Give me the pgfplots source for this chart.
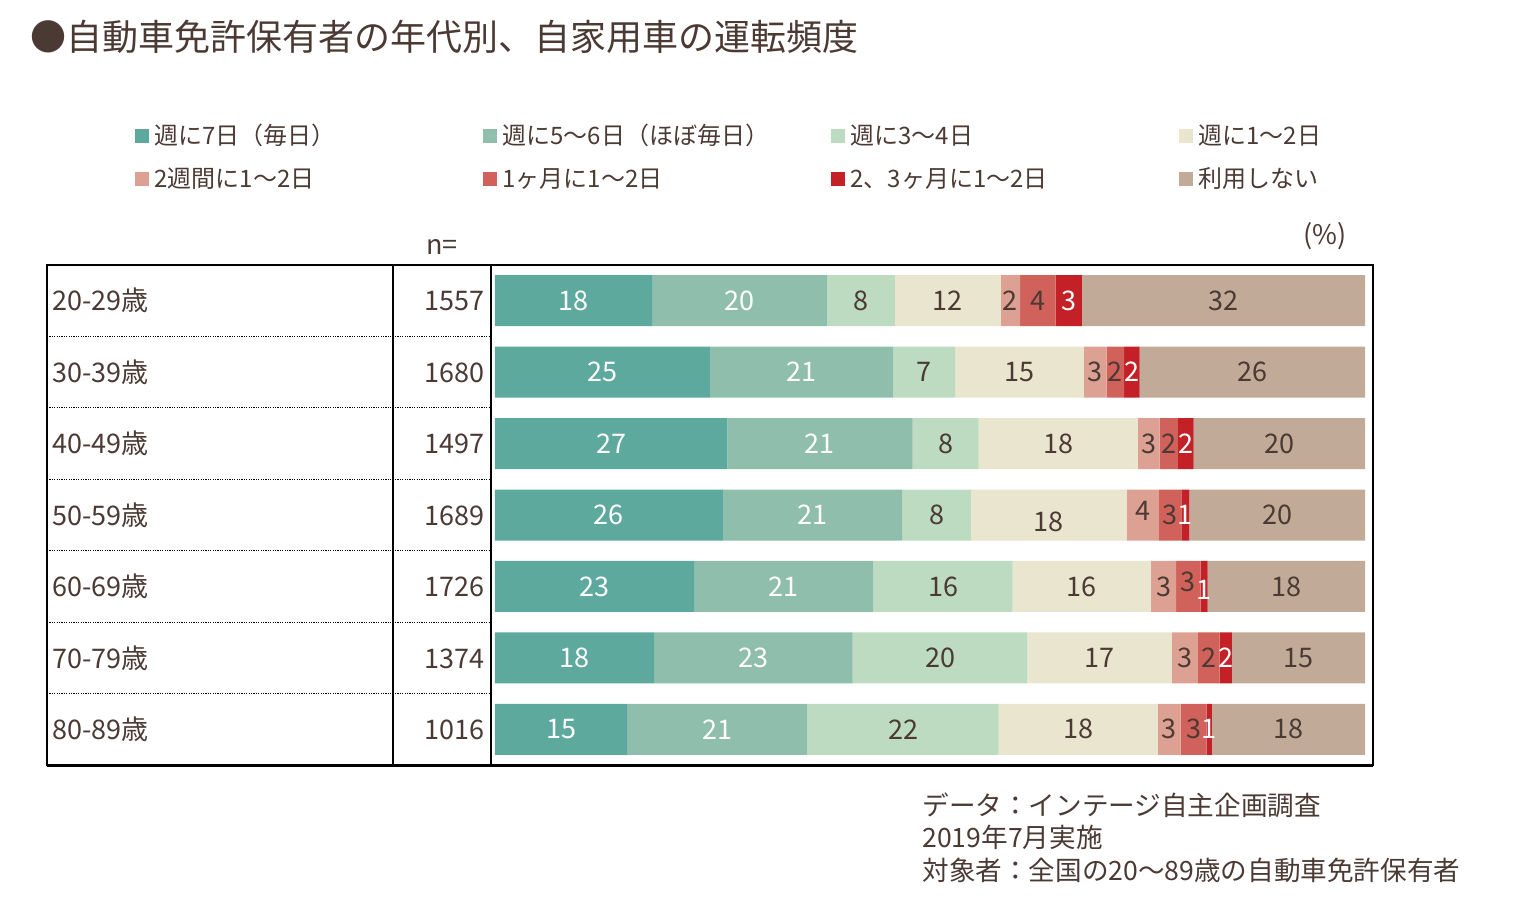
\documentclass[border=0pt]{standalone}
\usepackage{fontspec}
\setmainfont{Noto Sans CJK JP}
\usepackage{pgfplots}
\usepackage{pgfplotstable}
\pgfplotsset{compat=1.18}
\definecolor{txt}{HTML}{4B3A33}
\definecolor{c1}{HTML}{5EA99D}
\definecolor{c2}{HTML}{8FBEAD}
\definecolor{c3}{HTML}{BCDBC0}
\definecolor{c4}{HTML}{EAE5CF}
\definecolor{c5}{HTML}{DDA194}
\definecolor{c6}{HTML}{D1625B}
\definecolor{c7}{HTML}{C32127}
\definecolor{c8}{HTML}{C1AB98}
\newcommand\lbl{\fontsize{13.5}{16}\selectfont}
\newcommand\barfont{\fontsize{13.5}{16}\selectfont}
\newcommand\legfont{\fontsize{12}{14}\selectfont}
\newcommand\titlefont{\fontsize{18}{22}\selectfont}
\newcommand\footfont{\fontsize{13.3}{16.25}\selectfont}

\pgfplotstableread{
y s1 s2 s3 s4 s5 s6 s7 s8 l1 l2 l3 l4 l5 l6 l7 l8 z d4 d5 d6 d7
1 18.05 20.1 7.8 12.2 2.2 4.1 3.0 32.55 18 20 8 12 2 4 3 32 0 0 0 0 0
2 24.7 21.1 7.1 14.8 2.6 2.0 1.8 25.9 25 21 7 15 3 2 2 26 0 0 0 0 0
3 26.7 21.3 7.6 18.3 2.5 2.1 1.8 19.7 27 21 8 18 3 2 2 20 0 0 0 0 0
4 26.2 20.6 7.9 17.9 3.7 2.6 0.9 20.2 26 21 8 18 4 3 1 20 0 -3.5 2 0 0
5 22.9 20.6 16.0 15.9 2.9 2.8 0.8 18.1 23 21 16 16 3 3 1 18 0 0 0 2.5 -1.5
6 18.3 22.8 20.1 16.6 3.0 2.5 1.4 15.3 18 23 20 17 3 2 2 15 0 0 0 0 0
7 15.2 20.7 22.0 18.3 2.6 3.0 0.6 17.6 15 21 22 18 3 3 1 18 0 0 0 0 0
}\data

\newcommand\seg[4]{%
 \addplot[fill=#1, draw=none, point meta=explicit symbolic,
   visualization depends on={\thisrow{#4} \as \dy},
   nodes near coords,
   every node near coord/.append style={text=#3, anchor=center, font=\barfont, inner sep=0pt,
     yshift=\dy pt}]
   table[x=s#2, y=y, meta=l#2]{\data};}

\begin{document}
\begin{tikzpicture}
\useasboundingbox (-247.5pt,-68.5pt) rectangle (511.5pt,382.5pt);
\begin{axis}[
  at={(0pt,0pt)}, anchor=south west,
  width=435pt, height=250pt, scale only axis,
  xbar stacked, bar width=25.5pt,
  xmin=0, xmax=100, ymin=0.5, ymax=7.5, y dir=reverse,
  axis line style={draw=none},
  xtick=\empty,
  ytick={1,2,3,4,5,6,7},
  yticklabels={
    {\makebox[216pt]{20-29歳\hfill 1557}},
    {\makebox[216pt]{30-39歳\hfill 1680}},
    {\makebox[216pt]{40-49歳\hfill 1497}},
    {\makebox[216pt]{50-59歳\hfill 1689}},
    {\makebox[216pt]{60-69歳\hfill 1726}},
    {\makebox[216pt]{70-79歳\hfill 1374}},
    {\makebox[216pt]{80-89歳\hfill 1016}}},
  yticklabel style={anchor=east, inner sep=0pt, xshift=-5pt, font=\lbl, text=txt},
  major tick length=0pt,
  clip=false,
  legend columns=4,
  legend cell align=left,
  legend image code/.code={\fill[#1] (0pt,-2.3pt) rectangle (7pt,4.7pt);},
  legend style={at={(axis description cs:-0.41379,1.278)}, anchor=north west,
    draw=none, fill=none, inner sep=0pt, font=\legfont, text=txt,
    /tikz/column sep=0pt,
    /tikz/every odd column/.append style={column sep=2.5pt},
    row sep=10pt,
    nodes={inner sep=0pt, text height=9pt, text depth=2.5pt}},
]
\seg{c1}{1}{white}{z}
\addlegendentry{\makebox[164.5pt][l]{週に7日（毎日）}}
\seg{c2}{2}{white}{z}
\addlegendentry{\makebox[164.5pt][l]{週に5〜6日（ほぼ毎日）}}
\seg{c3}{3}{txt}{z}
\addlegendentry{\makebox[164.5pt][l]{週に3〜4日}}
\seg{c4}{4}{txt}{d4}
\addlegendentry{\makebox[164.5pt][l]{週に1〜2日}}
\seg{c5}{5}{txt}{d5}
\addlegendentry{\makebox[164.5pt][l]{2週間に1〜2日}}
\seg{c6}{6}{txt}{d6}
\addlegendentry{\makebox[164.5pt][l]{1ヶ月に1〜2日}}
\seg{c7}{7}{white}{d7}
\addlegendentry{\makebox[164.5pt][l]{2、3ヶ月に1〜2日}}
\seg{c8}{8}{txt}{z}
\addlegendentry{\makebox[164.5pt][l]{利用しない}}
\end{axis}
% table frame
\foreach \k in {1,...,6} {
  \draw[black, line width=0.5pt, dash pattern=on 0.6pt off 0.6pt] (-224pt,{250pt-\k*250pt/7}) -- (-2pt,{250pt-\k*250pt/7});
}
\draw[black, line width=0.6pt] (-51pt,0pt) -- (-51pt,250pt);
\draw[black, line width=1.1pt] (-2pt,0pt) -- (-2pt,250pt);
\draw[black, line width=0.9pt] (-224pt,0pt) rectangle (439pt,250pt);
\draw[black, line width=1.5pt] (-224pt,0pt) -- (439pt,0pt);
% texts
\node[anchor=west, font=\titlefont, text=txt, inner sep=0pt] at (-232.5pt,364pt) {●自動車免許保有者の年代別、自家用車の運転頻度};
\node[font=\lbl, text=txt, inner sep=0pt] at (-26.5pt,259pt) {n=};
\node[font=\lbl, text=txt, inner sep=0pt] at (415pt,264.5pt) {(\%)};
\node[anchor=north west, align=left, font=\footfont, text=txt, inner sep=0pt] at (213.5pt,-13.5pt)
  {データ：インテージ自主企画調査\\2019年7月実施\\対象者：全国の20〜89歳の自動車免許保有者};
\end{tikzpicture}
\end{document}
